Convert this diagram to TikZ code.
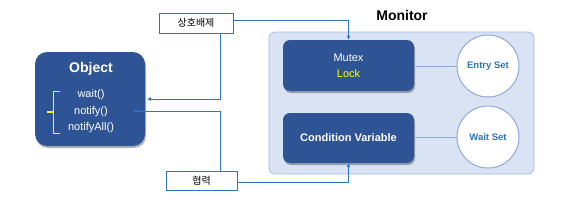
\documentclass[tikz,border=0pt]{standalone}
\usepackage{fontspec}
\setmainfont{Liberation Sans}
\newfontfamily\kr{Noto Sans CJK KR}
\usetikzlibrary{arrows.meta,shadows}
\definecolor{darkbox}{RGB}{47,84,150}
\definecolor{panel}{RGB}{218,227,243}
\definecolor{panelline}{RGB}{164,189,230}
\definecolor{conn}{RGB}{46,117,200}
\definecolor{circline}{RGB}{142,169,219}
\definecolor{settext}{RGB}{46,117,182}
\definecolor{lockyellow}{RGB}{255,255,0}
\tikzset{
  darkrect/.style={fill=darkbox, draw=none, rounded corners=7pt,
    drop shadow={shadow xshift=1pt, shadow yshift=-2pt, opacity=0.3, fill=black}},
  lbl/.style={draw=conn, fill=white, line width=0.9pt, font=\kr\fontsize{10}{12}\selectfont, inner sep=0pt},
  connline/.style={draw=conn, line width=0.9pt},
  arr/.style={connline, -{Latex[length=4pt,width=4pt]}},
  setcirc/.style={circle, draw=circline, fill=white, line width=1pt, minimum size=62pt, inner sep=0pt,
    text=settext, font=\bfseries\fontsize{9.5}{11}\selectfont},
  wtxt/.style={text=white, font=\fontsize{11}{13}\selectfont, inner sep=0pt},
}
\begin{document}
\begin{tikzpicture}[x=1pt,y=-1pt]
\useasboundingbox (0,0) rectangle (561,209);
% monitor panel
\node[fill=panel, draw=panelline, line width=0.8pt, rounded corners=6pt, minimum width=265pt, minimum height=142pt, inner sep=0pt] (panel) at (401.5,103) {};
\node[font=\bfseries\fontsize{14}{16}\selectfont] (montitle) at (402,15) {Monitor};
% object
\node[darkrect, rounded corners=12pt, minimum width=110pt, minimum height=94pt] (obj) at (90,99) {};
\node[wtxt, font=\bfseries\fontsize{14}{16}\selectfont] (objtitle) at (91,69) {Object};
\node[wtxt] (m1) at (91,95) {wait()};
\node[wtxt] (m2) at (91,111.5) {notify()};
\node[wtxt] (m3) at (91,128) {notifyAll()};
\draw[lockyellow, line width=0.9pt] (60,91) -- (53,91) -- (53,133) -- (60,133);
\draw[lockyellow, line width=1.2pt] (47,112) -- (53,112);
% monitor internals
\node[darkrect, minimum width=131pt, minimum height=51pt] (mutex) at (348.5,65.5) {};
\node[wtxt] (mutext) at (348.5,58) {Mutex};
\node[wtxt, text=lockyellow] (locktext) at (348.5,74) {Lock};
\node[darkrect, minimum width=131pt, minimum height=50pt] (cond) at (348.5,138) {};
\node[wtxt, font=\bfseries\fontsize{11}{13}\selectfont] (condtext) at (348.5,138) {Condition Variable};
\node[setcirc] (entry) at (488,66) {Entry Set};
\node[setcirc] (wait) at (488,137) {Wait Set};
\draw[circline, line width=1pt] (mutex.east |- entry.west) -- (entry.west);
\draw[circline, line width=1pt] (cond.east |- wait.west) -- (wait.west);
% label boxes
\node[lbl, minimum width=74pt, minimum height=20pt] (mx) at (196,23) {상호배제};
\node[lbl, minimum width=71pt, minimum height=19pt] (coop) at (201.5,180.5) {협력};
\coordinate (in1) at (147,99);
\coordinate (in2) at (133,111);
% connectors
\draw[arr] ([yshift=3pt]mx.east) -| (mutex.north);
\draw[arr] ([xshift=24pt]mx.south) |- (in1);
\draw[arr] ([xshift=18.5pt]coop.north) |- (in2);
\draw[arr] ([yshift=-1.5pt]coop.east) -| (cond.south);
\end{tikzpicture}
\end{document}
